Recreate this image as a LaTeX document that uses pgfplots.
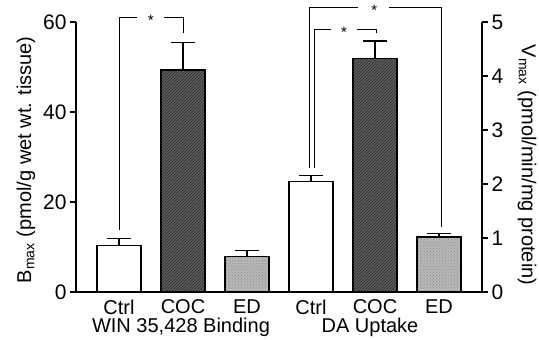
\documentclass[border=0pt]{standalone}
\usepackage{fontspec}
\setmainfont{Liberation Sans}
\usepackage{pgfplots}
\pgfplotsset{compat=1.18}
\usetikzlibrary{patterns}
\begin{document}
\begin{tikzpicture}
\path[use as bounding box] (-76pt,-48pt) rectangle (463pt,292pt);
\pgfplotsset{
  common/.style={
    scale only axis, width=406pt, height=270pt,
    at={(0pt,0pt)}, anchor=origin,
    xmin=0, xmax=406, clip=false,
    tick align=outside, major tick length=6pt,
    every tick/.style={black, line width=1.2pt},
    axis line style={line width=1.2pt},
    /pgf/number format/assume math mode=true,
    tick label style={font=\fontsize{21}{21}\selectfont},
    label style={font=\fontsize{20}{22}\selectfont},
  },
  barstyle/.style={ybar, bar width=44, draw=black, line width=1.3pt,
    error bars/y dir=plus, error bars/y explicit,
    error bars/error bar style={line width=1.2pt},
    error bars/error mark options={rotate=90, mark size=12pt, line width=1.2pt}},
}
% left axis
\begin{axis}[common,
  ymin=0, ymax=60, ytick={0,20,40,60},
  axis lines*=left,
  xtick={43,107,171,235,299,363},
  xticklabels={Ctrl,COC,ED,Ctrl,COC,ED},
  x tick style={draw=none},
  xticklabel style={font=\fontsize{20}{20}\selectfont, yshift=2pt},
  ylabel={B\textsubscript{max} (pmol/g wet wt. tissue)},
  ylabel style={at={(axis description cs:-0.123,0.49)}, anchor=center},
]
\addplot[barstyle, fill=white] coordinates {(43,10.4) +- (0,1.4)};
\addplot[barstyle, fill=black!62, postaction={pattern=north east lines, pattern color=black!85}] coordinates {(107,49.3) +- (0,6.2)};
\addplot[barstyle, fill=black!28, postaction={pattern=crosshatch dots, pattern color=black!45}] coordinates {(171,7.85) +- (0,1.45)};
\draw[line width=0.8pt] (axis cs:43,13.8) -- (axis cs:43,61.0) -- (axis cs:60.7,61.0);
\draw[line width=0.8pt] (axis cs:88,61.0) -- (axis cs:107,61.0) -- (axis cs:107,57.5);
\node[font=\fontsize{15}{15}\selectfont, yshift=-3pt] at (axis cs:74.7,61.0) {*};
\node[font=\fontsize{20}{22}\selectfont, anchor=base, inner sep=0pt] at (axis cs:105,-9.1) {WIN 35,428 Binding};
\node[font=\fontsize{20}{22}\selectfont, anchor=base, inner sep=0pt] at (axis cs:294,-9.1) {DA Uptake};
\end{axis}
% right axis
\begin{axis}[common,
  ymin=0, ymax=5, ytick={0,1,2,3,4,5},
  axis y line*=right, axis x line=none,
  ylabel={V\textsubscript{max} (pmol/min/mg protein)},
  ylabel style={at={(axis description cs:1.111,0.47)}, anchor=center, rotate=180},
]
\addplot[barstyle, fill=white] coordinates {(235,2.04) +- (0,0.11)};
\addplot[barstyle, fill=black!62, postaction={pattern=north east lines, pattern color=black!85}] coordinates {(299,4.32) +- (0,0.33)};
\addplot[barstyle, fill=black!28, postaction={pattern=crosshatch dots, pattern color=black!45}] coordinates {(363,1.02) +- (0,0.06)};
\draw[line width=0.8pt] (axis cs:238.3,2.296) -- (axis cs:238.3,4.865) -- (axis cs:255,4.865);
\draw[line width=0.8pt] (axis cs:281,4.865) -- (axis cs:300.7,4.865) -- (axis cs:300.7,4.796);
\node[font=\fontsize{15}{15}\selectfont, yshift=-3pt] at (axis cs:268,4.865) {*};
\draw[line width=0.8pt] (axis cs:233.3,2.296) -- (axis cs:233.3,5.272) -- (axis cs:282,5.272);
\draw[line width=0.8pt] (axis cs:313,5.272) -- (axis cs:365,5.272) -- (axis cs:365,1.204);
\node[font=\fontsize{15}{15}\selectfont, yshift=-3pt] at (axis cs:298.3,5.272) {*};
\end{axis}
\end{tikzpicture}
\end{document}
